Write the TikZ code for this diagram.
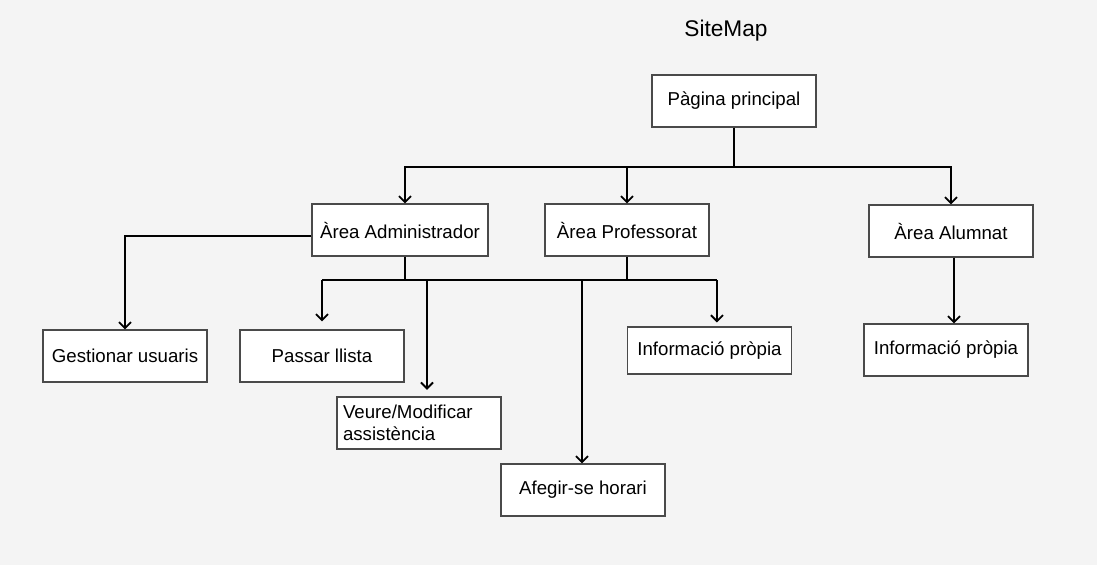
\documentclass[tikz,border=0pt]{standalone}
\usepackage{fontspec}
\setmainfont{Liberation Sans}
\usepackage{tikz}
\usepackage{xcolor}
\usetikzlibrary{arrows.meta}
\definecolor{bgcol}{HTML}{F4F4F4}
\definecolor{boxline}{HTML}{4A4A4A}
\tikzset{%
  tipV/.tip={Straight Barb[length=4.5pt,width=9pt]},
  pagebox/.style={draw=boxline, line width=.8pt, fill=white, minimum width=123pt,
    minimum height=39pt, inner sep=0pt, font=\fontsize{14pt}{16.3pt}\selectfont},
  link/.style={line width=1.4pt}
}

\begin{document}
\begin{tikzpicture}[x=.75pt,y=-.75pt]
\fill[bgcol] (0,0) rectangle (1097,565);
\node[font=\fontsize{17pt}{20pt}\selectfont] (titol) at (726,31) {SiteMap};
% pagines
\node[pagebox] (pagina) at (734,101) {Pàgina principal};
\node[pagebox, minimum width=132pt] (admin) at (400,230) {Àrea Administrador};
\node[pagebox] (prof) at (627,230) {Àrea Professorat};
\node[pagebox] (alumnat) at (951,231) {Àrea Alumnat};
\node[pagebox] (gestio) at (125,356) {Gestionar usuaris};
\node[pagebox] (passar) at (322,356) {Passar llista};
\node[pagebox, align=left, text width=114pt, inner xsep=4.5pt] (veure) at (419,423) {Veure/Modificar\\assistència};
\node[pagebox] (afegir) at (583,490) {Afegir-se horari};
\node[pagebox, minimum height=35.25pt] (infoprof) at (709.5,350.5) {Informació pròpia};
\node[pagebox] (infoalum) at (946,350) {Informació pròpia};
% busos
\coordinate (busT) at (0,167);
\coordinate (busB) at (0,280);
\coordinate (adminB) at ([xshift=3.75pt]admin.south);
\coordinate (adminL) at ([yshift=-4.5pt]admin.west);
\coordinate (veureIn) at ([xshift=6pt]veure.north);
\coordinate (infoIn) at ([xshift=5.6pt]infoprof.north);
\coordinate (alumOut) at ([xshift=2.25pt]alumnat.south);
% principal
\draw[link] (pagina.south) -- (pagina.south |- busT);
\draw[link,-tipV] (pagina.south |- busT) -| ([xshift=3.75pt]admin.north);
\draw[link,-tipV] (pagina.south |- busT) -| (prof.north);
\draw[link,-tipV] (pagina.south |- busT) -| (alumnat.north);
% administrador i professorat
\draw[link,-tipV] (adminL) -| (gestio.north);
\draw[link] (adminB) -- (adminB |- busB);
\draw[link] (prof.south) -- (prof.south |- busB);
\draw[link] (passar.north |- busB) -- (infoIn |- busB);
\draw[link,-tipV,shorten >=6pt] (passar.north |- busB) -- (passar.north);
\draw[link,-tipV,shorten >=5pt] (veureIn |- busB) -- (veureIn);
\draw[link,-tipV] ([xshift=-.75pt]afegir.north |- busB) -- ([xshift=-.75pt]afegir.north);
\draw[link,-tipV,shorten >=3pt] (infoIn |- busB) -- (infoIn);
% alumnat
\draw[link,-tipV] (alumOut) -- (alumOut |- infoalum.north);
\end{tikzpicture}
\end{document}
